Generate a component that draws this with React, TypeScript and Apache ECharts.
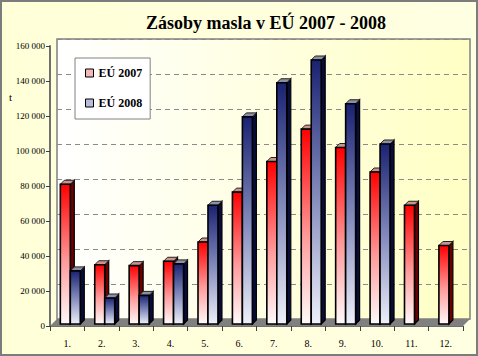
import React, { useEffect, useRef } from "react";
import * as echarts from "echarts";

const months = ["1.", "2.", "3.", "4.", "5.", "6.", "7.", "8.", "9.", "10.", "11.", "12."];
const eu2007 = [81000, 35000, 34500, 37000, 48000, 76500, 94000, 112500, 102000, 88000, 69000, 46000];
const eu2008: (number | null)[] = [31500, 16000, 17500, 35500, 69000, 119500, 139000, 152000, 127000, 104000, null, null];
const yTicks = { min: 0, max: 160000, interval: 20000 };
const seriesNames = ["EÚ 2007", "EÚ 2008"];

const FONT = "Liberation Serif";

const redFront = () =>
  new echarts.graphic.LinearGradient(0, 0, 0, 1, [
    { offset: 0, color: "#ff0000" },
    { offset: 0.55, color: "#ff9a9a" },
    { offset: 1, color: "#fffafa" },
  ]);
const blueFront = () =>
  new echarts.graphic.LinearGradient(0, 0, 0, 1, [
    { offset: 0, color: "#1a2272" },
    { offset: 0.5, color: "#8088bb" },
    { offset: 1, color: "#eef0fa" },
  ]);

const styles = [
  { front: redFront, side: "#6a0000", topCap: "#c8948c" },
  { front: blueFront, side: "#080c38", topCap: "#8c90a4" },
];

function makeRender(k: number) {
  return (params: any, api: any) => {
    const i = api.value(0);
    const v = api.value(1);
    const base = api.coord([i, 0]);
    const top = api.coord([i, v]);
    const band = api.size([1, 0])[0];
    const w = band * 0.29;
    const x0 = base[0] - band * 0.2 + k * w;
    const yb = base[1] - 2;
    const yt = top[1];
    const dx = 4;
    const dy = 4;
    const st = styles[k];
    return {
      type: "group",
      children: [
        {
          type: "polygon",
          shape: { points: [[x0 + w, yt], [x0 + w + dx, yt - dy], [x0 + w + dx, yb - dy], [x0 + w, yb]] },
          style: { fill: st.side, stroke: "#000", lineWidth: 1.2 },
        },
        {
          type: "polygon",
          shape: { points: [[x0, yt], [x0 + dx, yt - dy], [x0 + w + dx, yt - dy], [x0 + w, yt]] },
          style: { fill: st.topCap, stroke: "#222", lineWidth: 1 },
        },
        {
          type: "rect",
          shape: { x: x0, y: yt, width: w, height: yb - yt },
          style: { fill: st.front(), stroke: "#000", lineWidth: 1.6 },
        },
      ],
    };
  };
}

export default function App() {
  const ref = useRef<HTMLDivElement>(null);
  useEffect(() => {
    document.body.style.margin = "0";
    const chart = echarts.init(ref.current!, null, { renderer: "svg" });
    const fmt = (v: number) => String(v).replace(/\B(?=(\d{3})+(?!\d))/g, " ");
    const d2007 = eu2007.map((v, i) => [i, v]);
    const d2008 = eu2008.map((v, i) => (v == null ? null : [i, v])).filter((x) => x) as number[][];
    chart.setOption({
      animation: false,
      textStyle: { fontFamily: FONT },
      backgroundColor: new echarts.graphic.LinearGradient(0, 0, 1, 0, [
        { offset: 0, color: "#ffffd8" },
        { offset: 1, color: "#ffffe2" },
      ]),
      title: {
        text: "Zásoby masla v EÚ 2007 - 2008",
        left: 141,
        top: 9,
        textStyle: { fontFamily: FONT, fontWeight: "bold", fontSize: 18, color: "#000" },
      },
      legend: {
        left: 75,
        top: 58,
        orient: "vertical",
        padding: [9, 8, 10, 10],
        itemGap: 18,
        itemWidth: 8,
        itemHeight: 8,
        backgroundColor: "#ffffff",
        borderColor: "#808080",
        borderWidth: 1,
        textStyle: { fontFamily: FONT, fontWeight: "bold", fontSize: 12, color: "#000" },
        data: [
          { name: seriesNames[0], icon: "rect", itemStyle: { color: "#f4b8b8", borderColor: "#000", borderWidth: 1 } },
          { name: seriesNames[1], icon: "rect", itemStyle: { color: "#b8bcd8", borderColor: "#000", borderWidth: 1 } },
        ],
      },
      grid: [
        { left: 50, right: 15, top: 46, bottom: 30, show: false },
        {
          left: 57,
          right: 8,
          top: 39,
          bottom: 37,
          show: true,
          backgroundColor: new echarts.graphic.LinearGradient(0, 0, 1, 0, [
            { offset: 0, color: "#ffffff" },
            { offset: 1, color: "#ffffc4" },
          ]),
          borderColor: "#808080",
          borderWidth: 1.5,
        },
      ],
      xAxis: [
        {
          type: "category",
          gridIndex: 0,
          data: months,
          axisLine: { show: true, lineStyle: { color: "#707070", width: 1 } },
          axisTick: { show: true, length: 5, lineStyle: { color: "#404040" } },
          axisLabel: { fontFamily: FONT, fontSize: 10, color: "#000", margin: 12 },
        },
        { type: "category", gridIndex: 1, data: months, show: false },
      ],
      yAxis: [
        {
          type: "value",
          gridIndex: 0,
          min: yTicks.min,
          max: yTicks.max,
          interval: yTicks.interval,
          axisLine: { show: true, lineStyle: { color: "#707070", width: 2 } },
          axisTick: { show: true, length: 4, lineStyle: { color: "#404040" } },
          splitLine: { show: false },
          axisLabel: { fontFamily: FONT, fontSize: 9, color: "#000", margin: 5, formatter: fmt },
        },
        {
          type: "value",
          gridIndex: 1,
          min: yTicks.min,
          max: yTicks.max,
          interval: yTicks.interval,
          axisLine: { show: false },
          axisTick: { show: false },
          axisLabel: { show: false },
          splitLine: { show: true, lineStyle: { color: "#8a8a8a", type: [5, 4], width: 1 } },
        },
      ],
      graphic: [
        {
          type: "polygon",
          z: 1,
          shape: { points: [[50, 326], [463, 326], [470, 319], [57, 319]] },
          style: { fill: "#808080" },
        },
        {
          type: "text",
          left: 9,
          top: 91,
          style: { text: "t", fontFamily: FONT, fontSize: 11, fill: "#000" },
        },
        {
          type: "rect",
          z: 10,
          shape: { x: 1, y: 1, width: 476, height: 354 },
          style: { fill: "none", stroke: "#7c7c7c", lineWidth: 2 },
        },
      ],
      series: [
        {
          name: seriesNames[0],
          type: "custom",
          xAxisIndex: 0,
          yAxisIndex: 0,
          z: 3,
          itemStyle: { color: "#f4b8b8" },
          renderItem: makeRender(0),
          data: d2007,
        },
        {
          name: seriesNames[1],
          type: "custom",
          xAxisIndex: 0,
          yAxisIndex: 0,
          z: 3,
          itemStyle: { color: "#b8bcd8" },
          renderItem: makeRender(1),
          data: d2008,
        },
      ],
    });
    return () => chart.dispose();
  }, []);
  return <div ref={ref} style={{ width: 478, height: 356, position: "absolute", left: 0, top: 0 }} />;
}
